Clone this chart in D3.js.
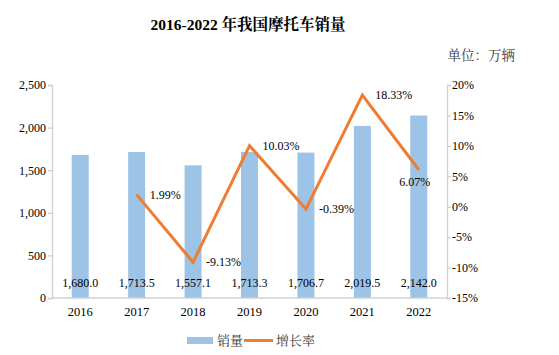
<!DOCTYPE html>
<html><head><meta charset="utf-8">
<script src="https://cdn.jsdelivr.net/npm/d3@7"></script>
<style>
html,body{margin:0;padding:0;background:#fff;}
svg{display:block;}
</style></head>
<body>
<svg id="c" width="559" height="355"></svg>
<script>
const years = ["2016","2017","2018","2019","2020","2021","2022"];
const sales = [1680.0, 1713.5, 1557.1, 1713.3, 1706.7, 2019.5, 2142.0];
const growth = [null, 1.99, -9.13, 10.03, -0.39, 18.33, 6.07];
const leftTicks = [0, 500, 1000, 1500, 2000, 2500];
const rightTicks = [-15, -10, -5, 0, 5, 10, 15, 20];
const titleText = "2016-2022 年我国摩托车销量";
const unitText = "单位：万辆";
const legendNames = ["销量", "增长率"];

const svg = d3.select("#c");
const serif = "'Liberation Serif','Times New Roman','Noto Serif CJK SC','Noto Sans CJK SC',serif";
const m = {l:52, r:447, t:85, b:298};
const barColor = "#9DC3E6", lineColor = "#ED7D31", axisColor = "#D0D0D0";

const x = d3.scaleBand().domain(years).range([m.l, m.r]).paddingInner(0).paddingOuter(0);
const yL = d3.scaleLinear().domain([0, 2500]).range([m.b, m.t]);
const yR = d3.scaleLinear().domain([-15, 20]).range([m.b, m.t]);

// title
svg.append("text").attr("x", 248).attr("y", 30).attr("text-anchor","middle")
  .attr("font-family", serif).attr("font-weight","bold").attr("font-size", 15.5).attr("fill","#000")
  .text(titleText);
svg.append("text").attr("x", 515).attr("y", 60).attr("text-anchor","end")
  .attr("font-family", serif).attr("font-size", 13.5).attr("fill","#404040")
  .text(unitText);

// bars
const bw = 17;
svg.append("g").selectAll("rect").data(years).join("rect")
  .attr("x", d => x(d) + x.bandwidth()/2 - bw/2)
  .attr("y", (d,i) => yL(sales[i]))
  .attr("width", bw)
  .attr("height", (d,i) => yL(0) - yL(sales[i]))
  .attr("fill", barColor);

// axes
const gL = svg.append("g").attr("transform", `translate(${m.l},0)`)
  .call(d3.axisLeft(yL).tickValues(leftTicks).tickSize(4).tickFormat(d3.format(",")));
const gR = svg.append("g").attr("transform", `translate(${m.r},0)`)
  .call(d3.axisRight(yR).tickValues(rightTicks).tickSize(4).tickFormat(d => d + "%"));
const gB = svg.append("g").attr("transform", `translate(0,${m.b})`)
  .call(d3.axisBottom(x).tickSize(0).tickPadding(9));
[gL, gR, gB].forEach(g => {
  g.selectAll(".domain").attr("stroke", axisColor).attr("stroke-width", 1.3);
  g.selectAll(".tick line").attr("stroke", axisColor).attr("stroke-width", 1.3);
  g.selectAll("text").attr("font-family", serif).attr("font-size", 12).attr("fill", "#000");
});
gB.select(".domain").attr("d", `M${m.l},0H${m.r}`);
gL.selectAll("text").attr("x", -6);
gR.selectAll("text").attr("x", 5);
gB.selectAll("text").attr("font-size", 12.5);

// value labels in bars
svg.append("g").selectAll("text").data(years).join("text")
  .attr("x", d => x(d) + x.bandwidth()/2)
  .attr("y", 287)
  .attr("text-anchor","middle")
  .attr("font-family", serif).attr("font-size", 12).attr("fill","#000")
  .text((d,i) => d3.format(",.1f")(sales[i]));

// line
const pts = years.map((d,i) => ({yr:d, v:growth[i]})).filter(p => p.v !== null);
const line = d3.line().x(p => x(p.yr) + x.bandwidth()/2).y(p => yR(p.v));
svg.append("path").datum(pts).attr("d", line)
  .attr("fill","none").attr("stroke", lineColor).attr("stroke-width", 3)
  .attr("stroke-linejoin","miter");

// line labels
svg.append("g").selectAll("text").data(pts).join("text")
  .attr("x", (p,i) => x(p.yr) + x.bandwidth()/2 + (p.yr === "2022" ? -4 : 13))
  .attr("y", (p,i) => yR(p.v) + (p.yr === "2022" ? 16 : 4))
  .attr("text-anchor", p => p.yr === "2022" ? "middle" : "start")
  .attr("font-family", serif).attr("font-size", 12).attr("fill","#000")
  .text(p => p.v.toFixed(2) + "%");

// legend
const lg = svg.append("g").attr("font-family", serif).attr("font-size", 13).attr("fill","#404040");
lg.append("rect").attr("x", 187).attr("y", 337).attr("width", 26).attr("height", 7).attr("fill", barColor);
lg.append("text").attr("x", 217).attr("y", 345).text(legendNames[0]);
lg.append("line").attr("x1", 244).attr("x2", 273).attr("y1", 340.5).attr("y2", 340.5)
  .attr("stroke", lineColor).attr("stroke-width", 3);
lg.append("text").attr("x", 276).attr("y", 345).text(legendNames[1]);
</script>
</body></html>
